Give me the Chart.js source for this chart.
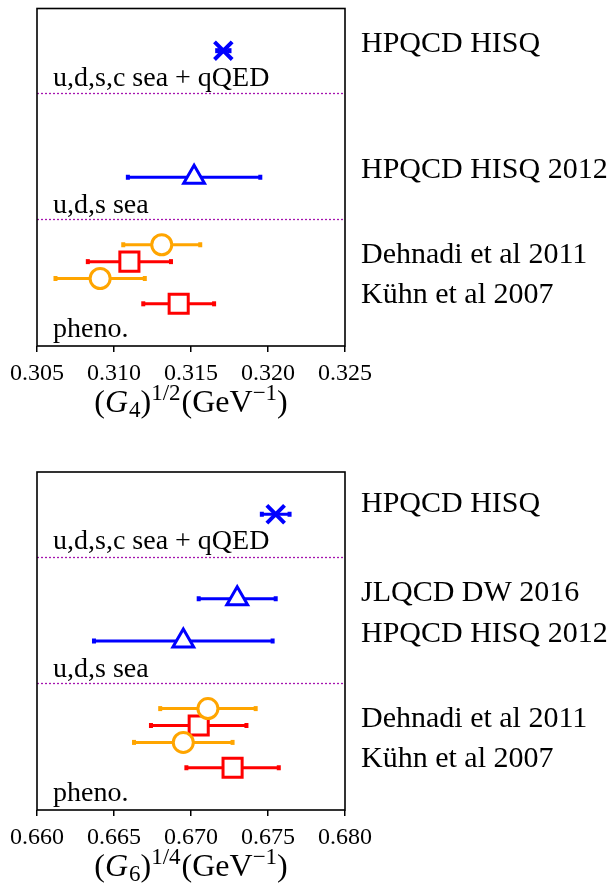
<!DOCTYPE html>
<html>
<head>
<meta charset="utf-8">
<script src="https://cdn.jsdelivr.net/npm/chart.js@4"></script>
<style>
  html, body { margin: 0; padding: 0; background: #fff; overflow: hidden; }
  .wrap { position: absolute; left: 0; width: 613px; }
</style>
</head>
<body>
<div class="wrap" style="top:-8px;height:452px"><canvas id="c1"></canvas></div>
<div class="wrap" style="top:444px;height:444px"><canvas id="c2"></canvas></div>
<script>
// ---------- Panel 1: (G4)^{1/2} ----------
const g4Kinds  = ['qed', 'lat', 'dehnadi', 'kuhn', 'dehnadi', 'kuhn'];
const g4Values = [0.3171, 0.3152, 0.3131, 0.3110, 0.3091, 0.3142];
const g4Errors = [0.0004, 0.0043, 0.0025, 0.0027, 0.0029, 0.0023];
const g4Rows   = [17.5, 10, 6, 5, 4, 2.5];
const g4LabelText = ['HPQCD HISQ', 'HPQCD HISQ 2012', 'Dehnadi et al 2011', 'Kühn et al 2007'];
const g4LabelRows = [17.9, 10.4, 5.4, 3.0];
const g4Ticks = [0.305, 0.310, 0.315, 0.320, 0.325];

// ---------- Panel 2: (G6)^{1/4} ----------
const g6Kinds  = ['qed', 'lat', 'lat', 'dehnadi', 'kuhn', 'dehnadi', 'kuhn'];
const g6Values = [0.6755, 0.6730, 0.6695, 0.6711, 0.6705, 0.6695, 0.6727];
const g6Errors = [0.0009, 0.0025, 0.0058, 0.0031, 0.0031, 0.0032, 0.0030];
const g6Rows   = [17.5, 12.5, 10, 6, 5, 4, 2.5];
const g6LabelText = ['HPQCD HISQ', 'JLQCD DW 2016', 'HPQCD HISQ 2012', 'Dehnadi et al 2011', 'Kühn et al 2007'];
const g6LabelRows = [18.1, 12.85, 10.4, 5.35, 3.0];
const g6Ticks = [0.660, 0.665, 0.670, 0.675, 0.680];

// ---------- shared group annotations ----------
const groupText = ['u,d,s,c sea + qQED', 'u,d,s sea', 'pheno.'];
const groupRows = [15.85, 8.3, 0.95];
const separatorRows = [15, 7.5];

const SERIF = '"Liberation Serif", "DejaVu Serif", serif';

const kindStyle = {
  qed:     { color: '#0000ff', pointStyle: 'crossRot', radius: 12.5, borderWidth: 4 },
  lat:     { color: '#0000ff', pointStyle: 'triangle', radius: 12, borderWidth: 3 },
  dehnadi: { color: '#ffa500', pointStyle: 'circle',   radius: 10, borderWidth: 3 },
  kuhn:    { color: '#ff0000', pointStyle: 'rect',     radius: 13.5, borderWidth: 3 }
};

function buildDatasets(kinds, values, errors, rows) {
  const order = ['dehnadi', 'kuhn', 'lat', 'qed'];
  return order.filter(k => kinds.includes(k)).map(k => {
    const st = kindStyle[k];
    const data = [];
    kinds.forEach((kk, i) => { if (kk === k) data.push({ x: values[i], y: rows[i], err: errors[i] }); });
    return {
      label: k,
      data,
      pointStyle: st.pointStyle,
      pointRadius: st.radius,
      pointHoverRadius: st.radius,
      pointBorderWidth: st.borderWidth,
      borderColor: st.color,
      pointBorderColor: st.color,
      pointBackgroundColor: '#ffffff',
      showLine: false
    };
  });
}

function drawRich(ctx, parts, cx, baseY, size) {
  let total = 0;
  parts.forEach(p => {
    ctx.font = (p.it ? 'italic ' : '') + Math.round(size * (p.s || 1)) + 'px ' + SERIF;
    p.w = ctx.measureText(p.t).width + (p.gap || 0);
    total += p.w;
  });
  let x = cx - total / 2;
  ctx.fillStyle = '#000';
  ctx.textAlign = 'left';
  ctx.textBaseline = 'alphabetic';
  parts.forEach(p => {
    ctx.font = (p.it ? 'italic ' : '') + Math.round(size * (p.s || 1)) + 'px ' + SERIF;
    ctx.fillText(p.t, x, baseY + (p.dy || 0) * size);
    x += p.w;
  });
}

function makePlugin(labelText, labelRows, titleParts) {
  return {
    id: 'decor',
    beforeDatasetsDraw(chart) {
      const ctx = chart.ctx;
      const xs = chart.scales.x, ys = chart.scales.y;
      const a = chart.chartArea;
      ctx.save();
      // separators
      ctx.strokeStyle = 'rgb(165,20,175)';
      ctx.lineWidth = 1.3;
      ctx.setLineDash([2, 2]);
      separatorRows.forEach(r => {
        const y = Math.round(ys.getPixelForValue(r)) + 0.5;
        ctx.beginPath(); ctx.moveTo(a.left, y); ctx.lineTo(a.right, y); ctx.stroke();
      });
      ctx.setLineDash([]);
      // group annotations
      ctx.fillStyle = '#000';
      ctx.font = '28px ' + SERIF;
      ctx.textAlign = 'left';
      ctx.textBaseline = 'middle';
      groupText.forEach((t, i) => ctx.fillText(t, a.left + 16, ys.getPixelForValue(groupRows[i])));
      // error bars
      chart.data.datasets.forEach(ds => {
        ctx.strokeStyle = ds.borderColor;
        ctx.fillStyle = ds.borderColor;
        ctx.lineWidth = 3;
        ds.data.forEach(p => {
          const y = ys.getPixelForValue(p.y);
          const x1 = xs.getPixelForValue(p.x - p.err);
          const x2 = xs.getPixelForValue(p.x + p.err);
          ctx.beginPath(); ctx.moveTo(x1, y); ctx.lineTo(x2, y); ctx.stroke();
          ctx.fillRect(x1 - 2, y - 2.5, 4, 5);
          ctx.fillRect(x2 - 2, y - 2.5, 4, 5);
        });
      });
      ctx.restore();
    },
    afterDraw(chart) {
      const ctx = chart.ctx;
      const ys = chart.scales.y;
      const a = chart.chartArea;
      ctx.save();
      // frame
      ctx.strokeStyle = '#000';
      ctx.lineWidth = 1.6;
      ctx.strokeRect(a.left, a.top, a.right - a.left, a.bottom - a.top);
      // right-hand labels
      ctx.fillStyle = '#000';
      ctx.font = '30px ' + SERIF;
      ctx.textAlign = 'left';
      ctx.textBaseline = 'middle';
      labelText.forEach((t, i) => ctx.fillText(t, a.right + 16, ys.getPixelForValue(labelRows[i])));
      // axis title
      drawRich(ctx, titleParts, (a.left + a.right) / 2, a.bottom + 66, 32);
      ctx.restore();
    }
  };
}

function makeChart(id, kinds, values, errors, rows, ticks, labelText, labelRows, titleParts, padTop, axisH) {
  return new Chart(document.getElementById(id), {
    type: 'scatter',
    data: { datasets: buildDatasets(kinds, values, errors, rows) },
    options: {
      responsive: true,
      maintainAspectRatio: false,
      animation: false,
      devicePixelRatio: 1,
      layout: { padding: { left: 37, right: 268, top: padTop, bottom: 0 } },
      plugins: { legend: { display: false }, tooltip: { enabled: false } },
      scales: {
        x: {
          type: 'linear',
          min: ticks[0], max: ticks[ticks.length - 1],
          afterBuildTicks: s => { s.ticks = ticks.map(v => ({ value: v })); },
          afterFit: s => { s.height = axisH; },
          border: { display: false },
          grid: { drawOnChartArea: false, drawTicks: true, tickLength: 6, color: '#000', lineWidth: 1.5 },
          ticks: { color: '#000', padding: 7, maxRotation: 0, font: { family: SERIF, size: 24 },
                   callback: v => Number(v).toFixed(3) }
        },
        y: { type: 'linear', display: false, min: 0, max: 20 }
      }
    },
    plugins: [makePlugin(labelText, labelRows, titleParts)]
  });
}

const title4 = [
  { t: '(' }, { t: 'G', it: true, gap: 1 }, { t: '4', s: 0.72, dy: 0.17 }, { t: ')' },
  { t: '1/2', s: 0.72, dy: -0.38, gap: 1 }, { t: '(GeV' }, { t: '−1', s: 0.72, dy: -0.38 }, { t: ')' }
];
const title6 = [
  { t: '(' }, { t: 'G', it: true, gap: 1 }, { t: '6', s: 0.72, dy: 0.17 }, { t: ')' },
  { t: '1/4', s: 0.72, dy: -0.38, gap: 1 }, { t: '(GeV' }, { t: '−1', s: 0.72, dy: -0.38 }, { t: ')' }
];

makeChart('c1', g4Kinds, g4Values, g4Errors, g4Rows, g4Ticks, g4LabelText, g4LabelRows, title4, 8, 98);
makeChart('c2', g6Kinds, g6Values, g6Errors, g6Rows, g6Ticks, g6LabelText, g6LabelRows, title6, 28, 78);
</script>
</body>
</html>
